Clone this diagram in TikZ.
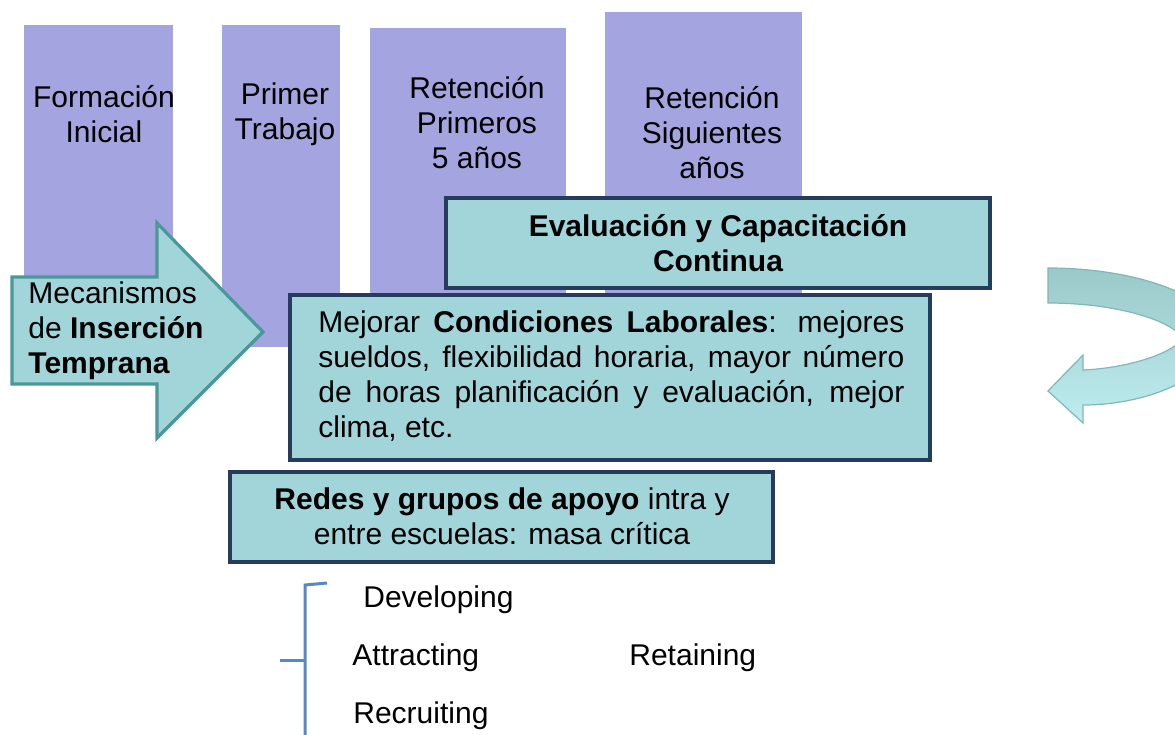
\documentclass[tikz,border=0pt]{standalone}
\usepackage{fontspec}
\setmainfont{Liberation Sans}
\usetikzlibrary{arrows}
\definecolor{lila}{RGB}{164,164,224}
\definecolor{aguamarina}{RGB}{161,213,217}
\definecolor{marino}{RGB}{38,60,92}
\definecolor{verdeazul}{RGB}{74,152,154}
\definecolor{azulllave}{RGB}{84,136,200}
\definecolor{giroarriba}{RGB}{155,200,200}
\definecolor{giroabajo}{RGB}{190,237,241}

\begin{document}
\begin{tikzpicture}[x=0.5pt,y=-0.5pt]
      \tikzset{
        etapa/.style={fill=lila},
        caja/.style={draw=marino, fill=aguamarina, line width=1.8pt},
        texto/.style={align=center, inner sep=0pt, font=\fontsize{15pt}{17.5pt}\selectfont},
        palabra/.style={texto, anchor=base west},
        flecha/.style={draw=verdeazul, fill=aguamarina, line width=1.6pt},
        llave/.style={draw=azulllave, line width=1.5pt},
      }
      \useasboundingbox (0,0) rectangle (1175,735);

      % etapas
      \fill[etapa] (24,25) rectangle (173,347);
      \fill[etapa] (222,25) rectangle (340,347);
      \fill[etapa] (370,28) rectangle (566,295);
      \fill[etapa] (605,12) rectangle (802,299);
      \node [texto] (formacion) at (104,114) {Formación\\Inicial};
      \node [texto] (primer) at (285,114) {Primer\\Trabajo};
      \node [texto] (ret5) at (477,123) {Retención\\Primeros\\5 años};
      \node [texto] (retsig) at (712,133) {Retención\\Siguientes\\años};

      % cajas
      \draw[caja] (446,198) rectangle (990,288);
      \node [texto, font=\fontsize{15pt}{17.5pt}\selectfont\bfseries] (eval) at (718,243) {Evaluación y Capacitación\\Continua};
      \draw[caja] (290,295) rectangle (930,460);
      \node [texto, align=justify, text width=293pt, anchor=west] (mejorar) at (318,376)
        {Mejorar \textbf{Condiciones Laborales}: mejores\linebreak sueldos, flexibilidad horaria, mayor número\linebreak de horas planificación y evaluación, mejor\linebreak clima, etc.};
      \draw[caja] (230,472) rectangle (773,562);
      \node [texto] (redes) at (502,516) {\textbf{Redes y grupos de apoyo} intra y\\entre escuelas: masa crítica};

      % flecha de insercion
      \path[flecha] (12,277) -- (157,277) -- (157,223) -- (263,332) -- (157,438) -- (157,384) -- (12,384) -- cycle;
      \node [texto, align=left, anchor=west] (mecanismos) at (28,331) {Mecanismos\\de \textbf{Inserción}\\\textbf{Temprana}};

      % flecha de giro
      \begin{scope}
        \clip (0,0) rectangle (1175,735);
        \shade[top color=giroarriba, bottom color=giroabajo, draw=verdeazul!70, line width=0.6pt]
          (1048,268) .. controls (1140,268) and (1218,298) .. (1218,335)
          .. controls (1218,375) and (1150,405) .. (1083,405) -- (1083,423) -- (1048,391)
          -- (1083,355) -- (1083,370) .. controls (1130,368) and (1176,352) .. (1182,338)
          .. controls (1174,322) and (1120,303) .. (1048,303) -- cycle;
      \end{scope}

      % llave y palabras
      \coordinate (llavearriba) at (327,583);
      \coordinate (llavepunta) at (280,660);
      \path[llave] (llavearriba) -- (305,585) -- (305,735);
      \path[llave] (llavepunta) -- (305,660);
      \node [palabra] (developing) at (363,607) {Developing};
      \node [palabra] (attracting) at (352,665) {Attracting};
      \node [palabra] (recruiting) at (353,723) {Recruiting};
      \node [palabra] (retaining) at (629,665) {Retaining};
\end{tikzpicture}
\end{document}
